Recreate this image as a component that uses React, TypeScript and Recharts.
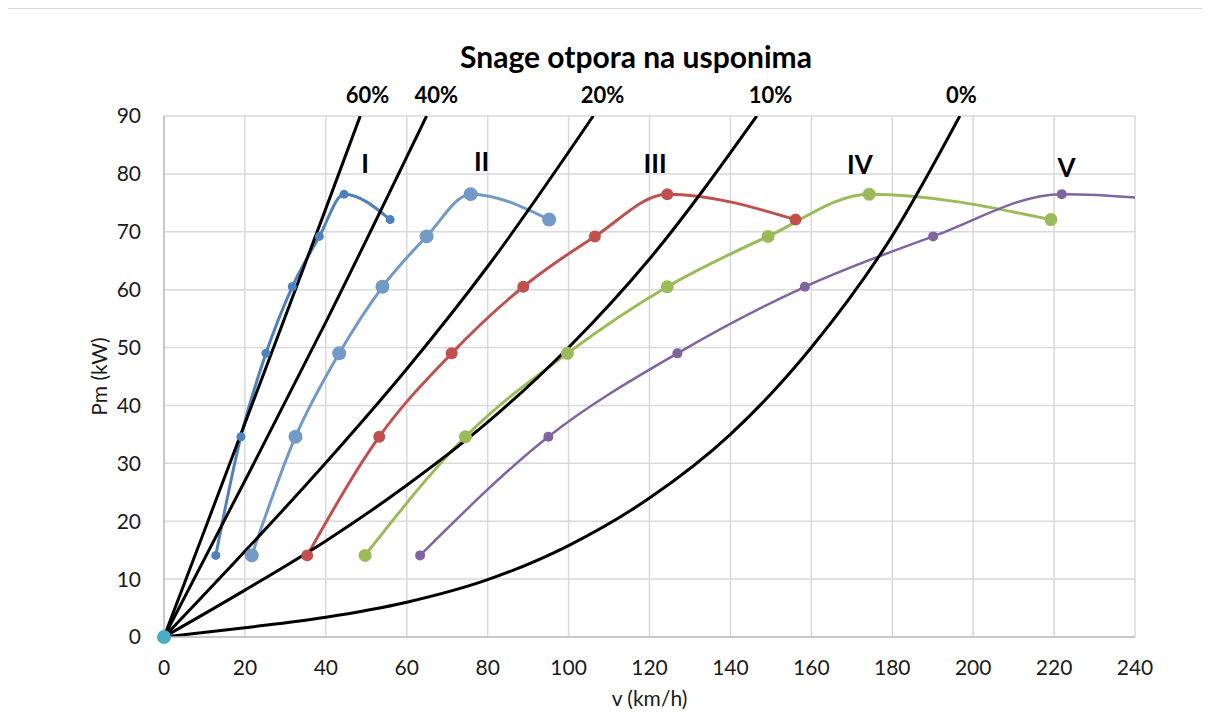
import { ComposedChart, Line, XAxis, YAxis, CartesianGrid, ReferenceDot } from 'recharts'

const speedTicks = [0, 20, 40, 60, 80, 100, 120, 140, 160, 180, 200, 220, 240]
const powerTicks = [0, 10, 20, 30, 40, 50, 60, 70, 80, 90]

// engine power at the seven read-off points, same for every gear
const gearPower = [14.1, 34.6, 49.0, 60.5, 69.2, 76.5, 72.1]
const gear1Speed = [12.8, 19.0, 25.2, 31.7, 38.4, 44.5, 55.9]
const gear2Speed = [21.7, 32.5, 43.3, 54.0, 64.9, 75.8, 95.2]
const gear3Speed = [35.4, 53.2, 71.1, 88.8, 106.5, 124.4, 156.1]
const gear4Speed = [49.7, 74.5, 99.7, 124.4, 149.3, 174.3, 219.2]
const gear5Speed = [63.3, 95.0, 126.9, 158.4, 190.1, 221.9, 279.0]

// resistance power on grades
const grade60Speed = [0, 10, 20, 30, 40, 48.5]
const grade60Power = [0, 18.4, 36.9, 55.4, 74.0, 90]
const grade40Speed = [0, 20, 40, 64.9]
const grade40Power = [0, 27.0, 54.4, 90]
const grade20Speed = [0, 20, 40, 60, 80, 106.1]
const grade20Power = [0, 14.8, 30.1, 46.3, 64.0, 90]
const grade10Speed = [0, 20, 40, 60, 80, 100, 120, 146.5]
const grade10Power = [0, 8.1, 16.6, 26.2, 37.1, 50.0, 65.3, 90]
const grade0Speed = [0, 20, 40, 60, 80, 100, 120, 140, 160, 180, 196.7]
const grade0Power = [0, 1.6, 3.4, 6.0, 9.9, 15.8, 24.0, 35.0, 50.0, 69.3, 90]

const gearNames = ['I', 'II', 'III', 'IV', 'V']
const gearLabelSpeed = [49.7, 78.5, 121.4, 172.0, 223.1]
const gearLabelPower = [81.7, 82.1, 81.8, 81.5, 81.0]

const gradeNames = ['60%', '40%', '20%', '10%', '0%']
const gradeLabelSpeed = [50.3, 67.3, 108.4, 149.9, 197.1]
const gradeLabelPower = [93.6, 93.6, 93.6, 93.6, 93.6]

const pts = (vs: number[], ps: number[]) => vs.map((v, i) => ({ v, p: ps[i] }))

const gears = [
  { data: pts(gear1Speed, gearPower), color: '#4f81bd', r: 4.5, w: 3 },
  { data: pts(gear2Speed, gearPower), color: '#7399c6', r: 7, w: 3 },
  { data: pts(gear3Speed, gearPower), color: '#c0504d', r: 6, w: 3 },
  { data: pts(gear4Speed, gearPower), color: '#9bbb59', r: 6.5, w: 3 },
  { data: pts(gear5Speed, gearPower), color: '#8064a2', r: 5, w: 2.5 },
]

const grades = [
  pts(grade60Speed, grade60Power),
  pts(grade40Speed, grade40Power),
  pts(grade20Speed, grade20Power),
  pts(grade10Speed, grade10Power),
  pts(grade0Speed, grade0Power),
]

const origin = [{ v: 0, p: 0 }]

const font = 'Lato, "Open Sans", sans-serif'
const tickStyle = { fontSize: 21, fill: '#1a1a1a', fontFamily: font }

export default function App() {
  return (
    <div style={{ position: 'relative', width: 1202, height: 702 }}>
      <div style={{
        position: 'absolute', left: -2, top: -1, width: 1195, height: 700,
        borderLeft: '2px solid #d9d9d9', borderTop: '2px solid #d9d9d9'
      }} />
      <div style={{
        position: 'absolute', left: 328, top: 33, width: 600, textAlign: 'center',
        fontFamily: font, fontWeight: 700, fontSize: 30, lineHeight: '30px', color: '#000'
      }}>
        Snage otpora na usponima
      </div>
      <ComposedChart width={1202} height={702} margin={{ top: 108, right: 75, left: 96, bottom: 3 }}
        style={{ fontFamily: font }}>
        <CartesianGrid stroke="#d9d9d9" strokeWidth={1.5} />
        <XAxis
          type="number" dataKey="v" domain={[0, 240]} ticks={speedTicks} allowDataOverflow
          height={70} tickLine={false} axisLine={{ stroke: '#bfbfbf', strokeWidth: 1.5 }}
          tickSize={6} tickMargin={17} fontSize={21} tick={{ ...tickStyle, style: tickStyle }}
          label={{ value: 'v (km/h)', position: 'insideBottom', offset: 1, fontSize: 21, style: tickStyle }}
        />
        <YAxis
          type="number" dataKey="p" domain={[0, 90]} ticks={powerTicks} allowDataOverflow
          width={60} tickLine={false} axisLine={{ stroke: '#bfbfbf', strokeWidth: 1.5 }}
          tickSize={6} tickMargin={17} fontSize={21} tick={{ ...tickStyle, style: tickStyle }}
          label={{ value: 'Pm (kW)', angle: -90, position: 'insideLeft', offset: -4, fontSize: 21, style: { ...tickStyle, textAnchor: 'middle' } }}
        />
        <Line data={origin} dataKey="p" stroke="#4bacc6" isAnimationActive={false}
          dot={{ r: 7, fill: '#4bacc6', stroke: '#4bacc6', strokeWidth: 0, clipDot: false }} activeDot={false} />
        {gears.map((g, i) => (
          <Line key={'g' + i} data={g.data} dataKey="p" type="monotone" stroke={g.color}
            strokeWidth={g.w} isAnimationActive={false} activeDot={false}
            dot={{ r: g.r, fill: g.color, stroke: g.color, strokeWidth: 0 }} />
        ))}
        {grades.map((d, i) => (
          <Line key={'r' + i} data={d} dataKey="p" type="monotone" stroke="#000"
            strokeWidth={3} dot={false} activeDot={false} isAnimationActive={false} />
        ))}
        {gearNames.map((n, i) => (
          <ReferenceDot key={n} x={gearLabelSpeed[i]} y={gearLabelPower[i]} r={0} ifOverflow="visible"
            fill="none" stroke="none"
            label={{ value: n, position: 'center', fill: '#000', fontSize: 26, fontWeight: 700, fontFamily: font }} />
        ))}
        {gradeNames.map((n, i) => (
          <ReferenceDot key={n} x={gradeLabelSpeed[i]} y={gradeLabelPower[i]} r={0} ifOverflow="visible"
            fill="none" stroke="none"
            label={{ value: n, position: 'center', fill: '#000', fontSize: 22, fontWeight: 700, fontFamily: font }} />
        ))}
      </ComposedChart>
    </div>
  )
}
